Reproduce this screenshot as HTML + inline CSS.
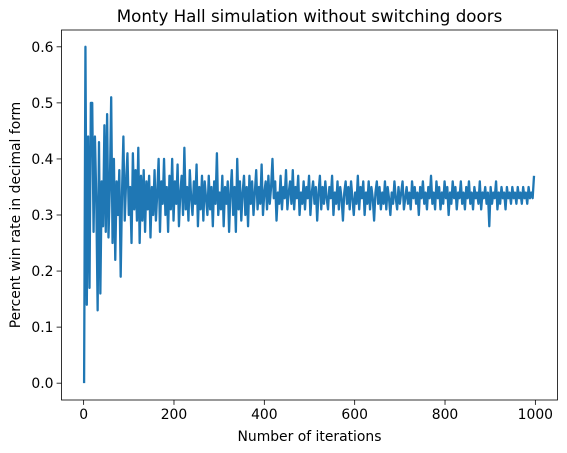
<!DOCTYPE html>
<html><head><meta charset="utf-8"><style>
body{margin:0;background:#fff}
svg{display:block;font-family:"DejaVu Sans","Liberation Sans",sans-serif}
</style></head><body>
<svg id="chart" width="567" height="453" viewBox="0 0 567 453">
<rect x="0" y="0" width="567" height="453" fill="#fff"/>
<g id="ticks"></g>
<path id="line" fill="none" stroke="#1f77b4" stroke-width="2.3" stroke-linejoin="round"/>
<rect x="61.5" y="30" width="496" height="370" fill="none" stroke="#000" stroke-width="0.8"/>
<text x="309.5" y="22" font-size="16.7" text-anchor="middle">Monty Hall simulation without switching doors</text>
<text x="309.5" y="441" font-size="13.9" text-anchor="middle">Number of iterations</text>
<text transform="translate(20,215) rotate(-90)" font-size="13.9" text-anchor="middle">Percent win rate in decimal form</text>
</svg>
<script>
const xTicks=[0,200,400,600,800,1000];
const yTicks=[0.0,0.1,0.2,0.3,0.4,0.5,0.6];
const yTickLabels=["0.0","0.1","0.2","0.3","0.4","0.5","0.6"];
const iterStart=1, iterStep=3;
const winRates=[
0,0.6,0.14,0.44,0.17,0.5,0.5,0.27,0.44,0.33,0.13,0.43,0.16,0.36,0.28,0.46,0.27,0.48,0.26,0.35,
0.51,0.25,0.40,0.22,0.36,0.30,0.38,0.19,0.34,0.44,0.29,0.36,0.41,0.30,0.35,0.25,0.41,0.31,0.38,0.29,
0.42,0.25,0.37,0.29,0.38,0.27,0.36,0.31,0.37,0.26,0.35,0.30,0.38,0.29,0.34,0.40,0.27,0.36,0.32,0.40,
0.30,0.35,0.27,0.37,0.31,0.40,0.29,0.36,0.32,0.39,0.28,0.34,0.37,0.30,0.42,0.31,0.35,0.29,0.38,0.33,
0.30,0.36,0.32,0.39,0.28,0.35,0.31,0.37,0.29,0.36,0.33,0.30,0.37,0.31,0.35,0.28,0.36,0.32,0.41,0.30,
0.34,0.31,0.37,0.28,0.35,0.32,0.36,0.27,0.34,0.38,0.30,0.35,0.27,0.40,0.31,0.36,0.29,0.34,0.37,0.30,
0.35,0.28,0.37,0.32,0.36,0.30,0.34,0.38,0.31,0.35,0.32,0.39,0.30,0.34,0.36,0.31,0.37,0.32,0.35,0.40,
0.33,0.36,0.29,0.34,0.32,0.37,0.31,0.35,0.33,0.38,0.31,0.34,0.36,0.32,0.38,0.31,0.35,0.33,0.37,0.30,
0.34,0.32,0.36,0.31,0.35,0.33,0.37,0.30,0.34,0.36,0.32,0.35,0.29,0.34,0.37,0.31,0.35,0.32,0.36,0.33,
0.31,0.35,0.33,0.37,0.30,0.34,0.32,0.36,0.31,0.35,0.33,0.29,0.34,0.36,0.32,0.35,0.31,0.36,0.33,0.30,
0.34,0.32,0.37,0.31,0.35,0.33,0.36,0.30,0.34,0.32,0.36,0.31,0.35,0.33,0.29,0.34,0.36,0.32,0.35,0.31,
0.34,0.32,0.36,0.31,0.35,0.33,0.30,0.34,0.32,0.36,0.33,0.31,0.35,0.32,0.34,0.36,0.31,0.33,0.35,0.32,
0.34,0.31,0.36,0.33,0.35,0.32,0.34,0.30,0.35,0.33,0.36,0.32,0.34,0.31,0.35,0.33,0.37,0.32,0.34,0.31,
0.36,0.33,0.35,0.31,0.34,0.32,0.36,0.33,0.35,0.30,0.34,0.32,0.36,0.33,0.35,0.31,0.34,0.33,0.36,0.32,
0.34,0.31,0.35,0.33,0.36,0.32,0.34,0.31,0.35,0.33,0.34,0.32,0.36,0.31,0.34,0.33,0.35,0.32,0.34,0.28,
0.35,0.32,0.34,0.33,0.36,0.31,0.34,0.32,0.35,0.33,0.34,0.31,0.35,0.33,0.34,0.32,0.35,0.33,0.34,0.32,
0.35,0.33,0.34,0.32,0.35,0.33,0.34,0.32,0.35,0.33,0.34,0.33,0.37
];
const PL=61.5,PR=557.5,PT=30,PB=400,XMIN=-49,XMAX=1049,YMIN=-0.03,YMAX=0.63;
function sx(v){return PL+(v-XMIN)/(XMAX-XMIN)*(PR-PL);}
function sy(v){return PB-(v-YMIN)/(YMAX-YMIN)*(PB-PT);}
const NS="http://www.w3.org/2000/svg";
const g=document.getElementById('ticks');
function mk(tag,attrs){const e=document.createElementNS(NS,tag);for(const k in attrs)e.setAttribute(k,attrs[k]);g.appendChild(e);return e;}
xTicks.forEach(t=>{
  const l=mk('line',{x1:sx(t),x2:sx(t),y1:PB,y2:PB+4.9,stroke:'#000','stroke-width':0.8});
  
  
  const tx=mk('text',{x:sx(t),y:PB+19,'font-size':13.9,'text-anchor':'middle'});
  tx.textContent=String(t);
  
  
});
yTicks.forEach((t,i)=>{
  const l=mk('line',{x1:PL-4.9,x2:PL,y1:sy(t),y2:sy(t),stroke:'#000','stroke-width':0.8});
  
  
  const tx=mk('text',{x:PL-8,y:sy(t)+5,'font-size':13.9,'text-anchor':'end'});
  tx.textContent=yTickLabels[i];
  
  
});
let d='';
winRates.forEach((v,i)=>{const x=iterStart+i*iterStep;d+=(i?'L':'M')+sx(x).toFixed(2)+','+sy(v).toFixed(2);});
document.getElementById('line').setAttribute('d',d);
</script>
</body></html>
